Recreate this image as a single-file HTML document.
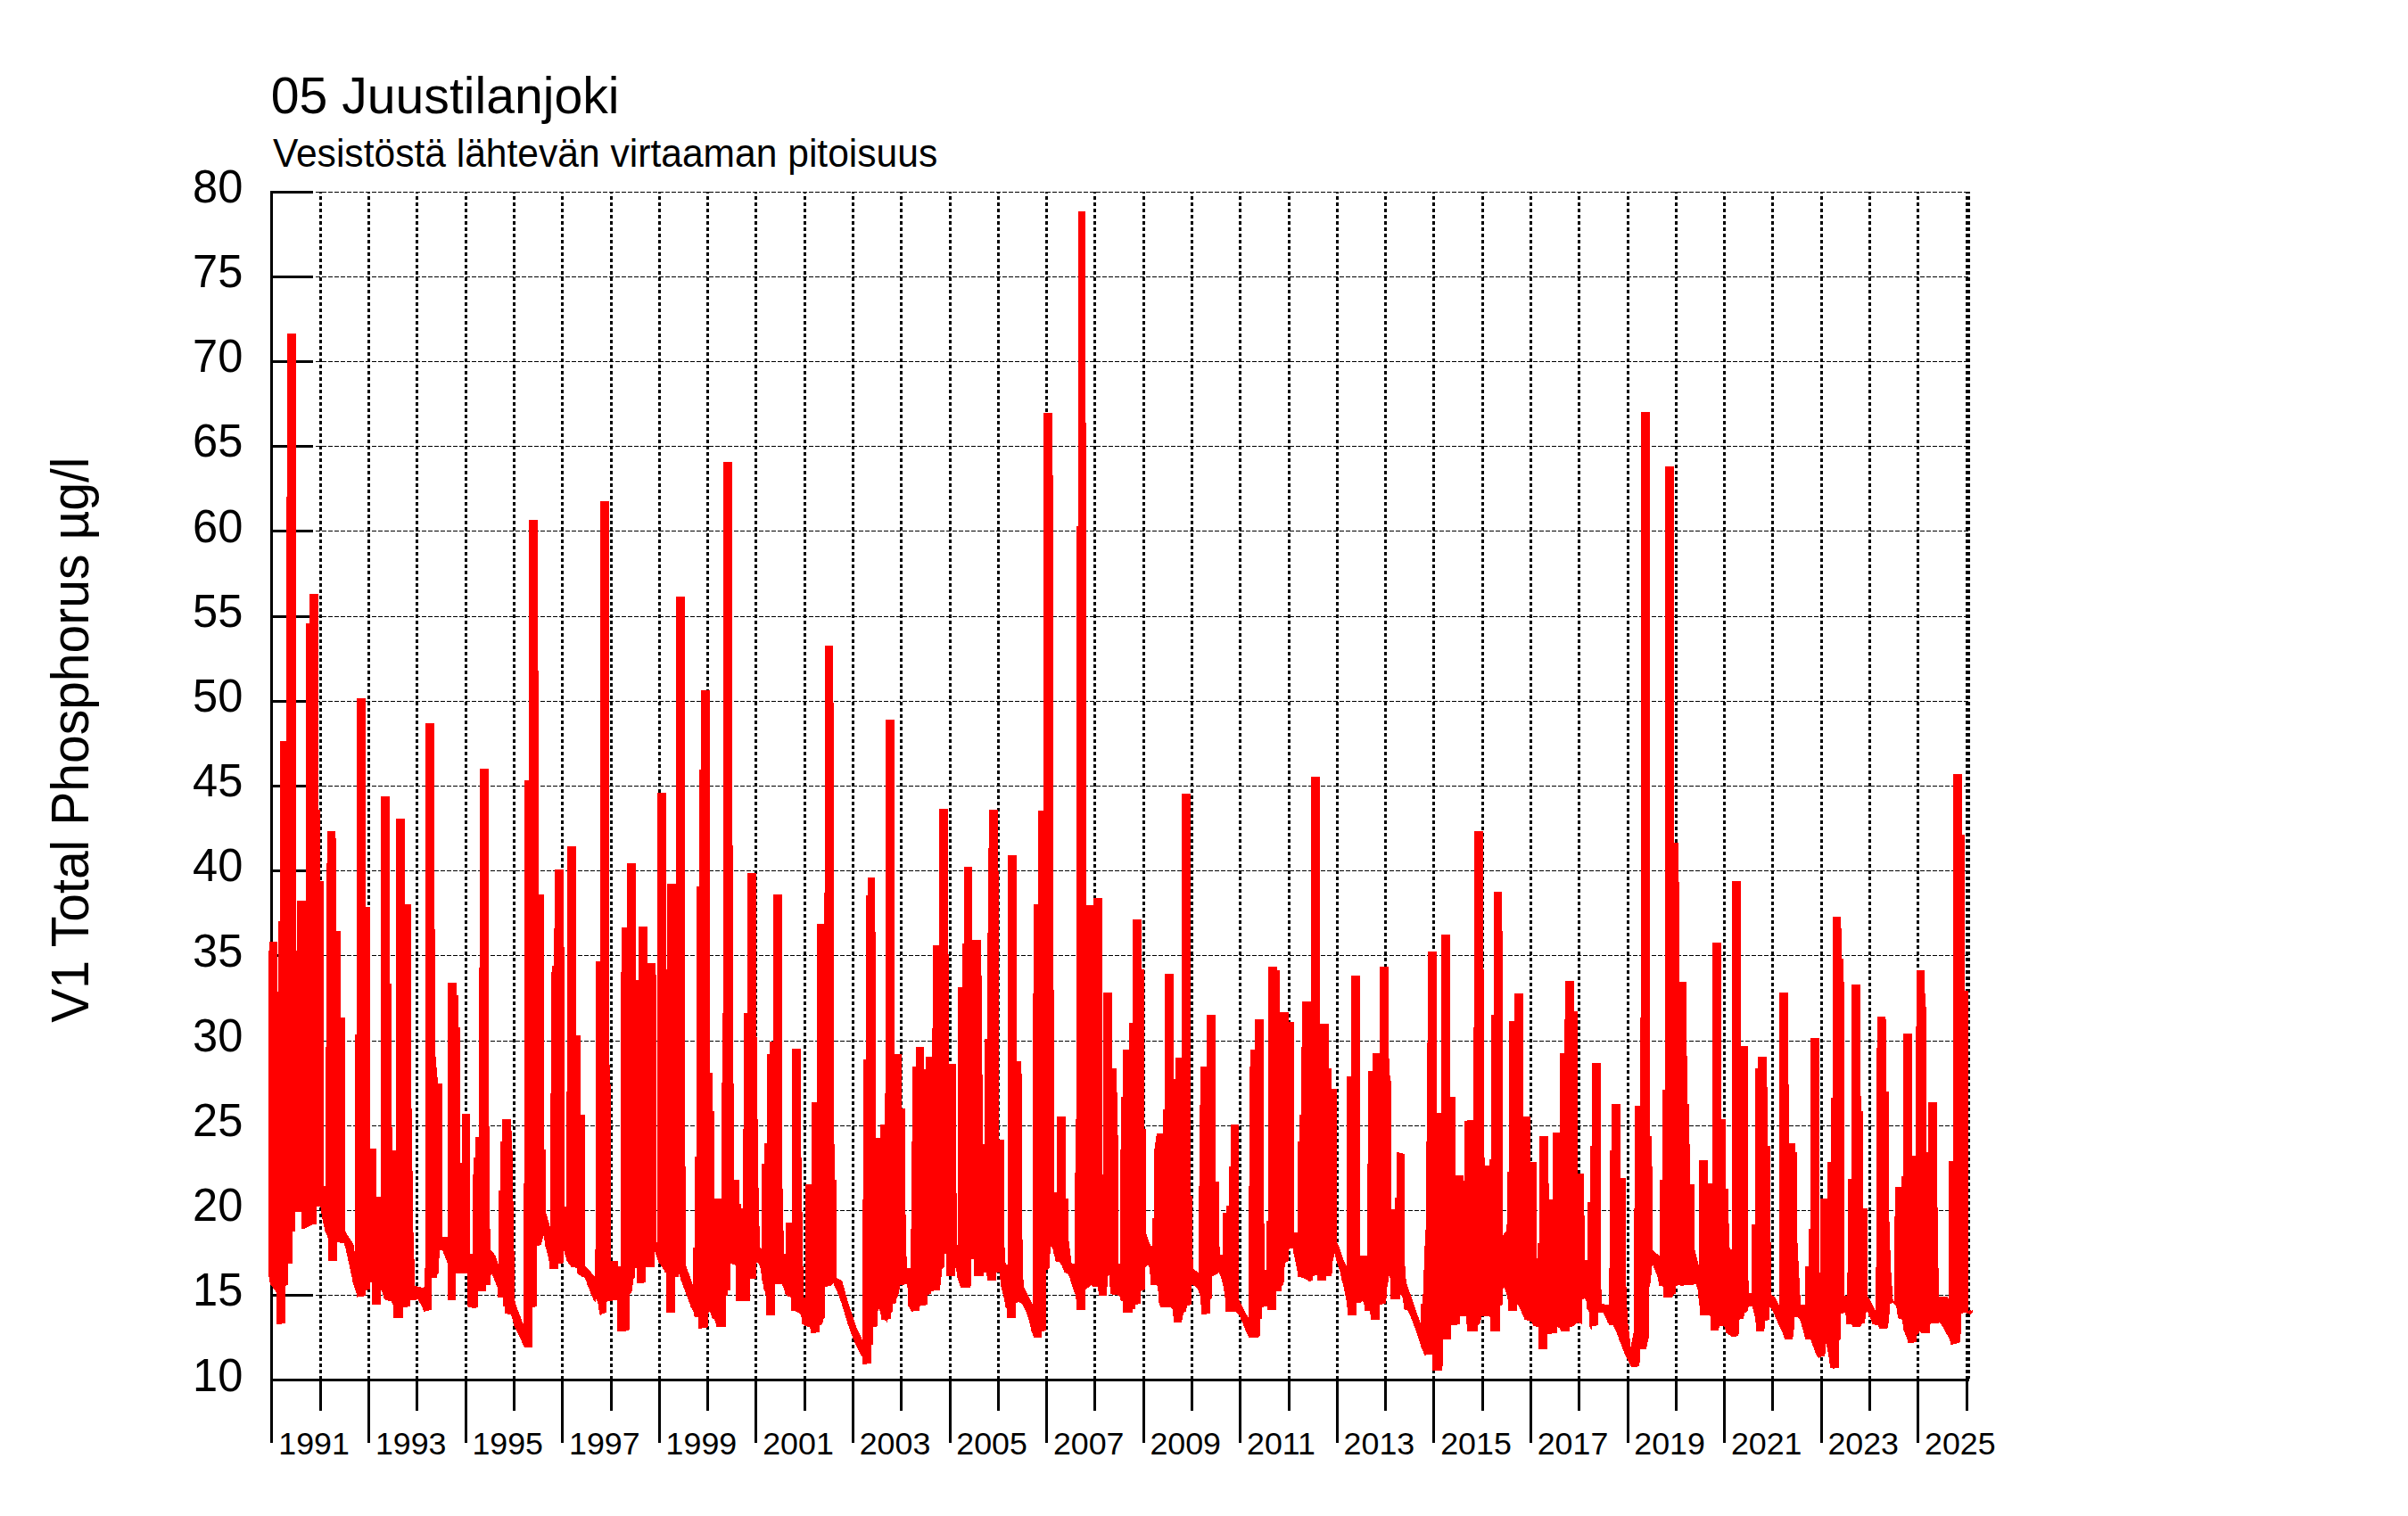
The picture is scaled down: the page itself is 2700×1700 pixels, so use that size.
<!DOCTYPE html>
<html><head><meta charset="utf-8"><title>05 Juustilanjoki</title>
<style>html,body{margin:0;padding:0;background:#fff}svg{display:block}text{font-family:"Liberation Sans",sans-serif;fill:#000}</style></head><body>
<svg width="2700" height="1700" viewBox="0 0 2700 1700">
<rect width="2700" height="1700" fill="#fff"/>
<g shape-rendering="crispEdges" stroke="#000" fill="none">
<line x1="354" x2="2208" y1="1452.5" y2="1452.5" stroke-width="1" stroke-dasharray="5 2"/>
<line x1="354" x2="2208" y1="1357.5" y2="1357.5" stroke-width="1" stroke-dasharray="5 2"/>
<line x1="354" x2="2208" y1="1262.5" y2="1262.5" stroke-width="1" stroke-dasharray="5 2"/>
<line x1="354" x2="2208" y1="1167.5" y2="1167.5" stroke-width="1" stroke-dasharray="5 2"/>
<line x1="354" x2="2208" y1="1071.5" y2="1071.5" stroke-width="1" stroke-dasharray="5 2"/>
<line x1="354" x2="2208" y1="976.5" y2="976.5" stroke-width="1" stroke-dasharray="5 2"/>
<line x1="354" x2="2208" y1="881.5" y2="881.5" stroke-width="1" stroke-dasharray="5 2"/>
<line x1="354" x2="2208" y1="786.5" y2="786.5" stroke-width="1" stroke-dasharray="5 2"/>
<line x1="354" x2="2208" y1="691.5" y2="691.5" stroke-width="1" stroke-dasharray="5 2"/>
<line x1="354" x2="2208" y1="595.5" y2="595.5" stroke-width="1" stroke-dasharray="5 2"/>
<line x1="354" x2="2208" y1="500.5" y2="500.5" stroke-width="1" stroke-dasharray="5 2"/>
<line x1="354" x2="2208" y1="405.5" y2="405.5" stroke-width="1" stroke-dasharray="5 2"/>
<line x1="354" x2="2208" y1="310.5" y2="310.5" stroke-width="1" stroke-dasharray="5 2"/>
<line x1="354" x2="2208" y1="215.5" y2="215.5" stroke-width="1" stroke-dasharray="5 2"/>
<line x1="359.5" x2="359.5" y1="215" y2="1546" stroke-width="3" stroke-dasharray="4 3" stroke-dashoffset="1.7"/>
<line x1="413.5" x2="413.5" y1="215" y2="1546" stroke-width="3" stroke-dasharray="4 3" stroke-dashoffset="1.7"/>
<line x1="467.5" x2="467.5" y1="215" y2="1546" stroke-width="3" stroke-dasharray="4 3" stroke-dashoffset="1.7"/>
<line x1="522.5" x2="522.5" y1="215" y2="1546" stroke-width="3" stroke-dasharray="4 3" stroke-dashoffset="1.7"/>
<line x1="576.5" x2="576.5" y1="215" y2="1546" stroke-width="3" stroke-dasharray="4 3" stroke-dashoffset="1.7"/>
<line x1="630.5" x2="630.5" y1="215" y2="1546" stroke-width="3" stroke-dasharray="4 3" stroke-dashoffset="1.7"/>
<line x1="685.5" x2="685.5" y1="215" y2="1546" stroke-width="3" stroke-dasharray="4 3" stroke-dashoffset="1.7"/>
<line x1="739.5" x2="739.5" y1="215" y2="1546" stroke-width="3" stroke-dasharray="4 3" stroke-dashoffset="1.7"/>
<line x1="793.5" x2="793.5" y1="215" y2="1546" stroke-width="3" stroke-dasharray="4 3" stroke-dashoffset="1.7"/>
<line x1="847.5" x2="847.5" y1="215" y2="1546" stroke-width="3" stroke-dasharray="4 3" stroke-dashoffset="1.7"/>
<line x1="902.5" x2="902.5" y1="215" y2="1546" stroke-width="3" stroke-dasharray="4 3" stroke-dashoffset="1.7"/>
<line x1="956.5" x2="956.5" y1="215" y2="1546" stroke-width="3" stroke-dasharray="4 3" stroke-dashoffset="1.7"/>
<line x1="1010.5" x2="1010.5" y1="215" y2="1546" stroke-width="3" stroke-dasharray="4 3" stroke-dashoffset="1.7"/>
<line x1="1065.5" x2="1065.5" y1="215" y2="1546" stroke-width="3" stroke-dasharray="4 3" stroke-dashoffset="1.7"/>
<line x1="1119.5" x2="1119.5" y1="215" y2="1546" stroke-width="3" stroke-dasharray="4 3" stroke-dashoffset="1.7"/>
<line x1="1173.5" x2="1173.5" y1="215" y2="1546" stroke-width="3" stroke-dasharray="4 3" stroke-dashoffset="1.7"/>
<line x1="1227.5" x2="1227.5" y1="215" y2="1546" stroke-width="3" stroke-dasharray="4 3" stroke-dashoffset="1.7"/>
<line x1="1282.5" x2="1282.5" y1="215" y2="1546" stroke-width="3" stroke-dasharray="4 3" stroke-dashoffset="1.7"/>
<line x1="1336.5" x2="1336.5" y1="215" y2="1546" stroke-width="3" stroke-dasharray="4 3" stroke-dashoffset="1.7"/>
<line x1="1390.5" x2="1390.5" y1="215" y2="1546" stroke-width="3" stroke-dasharray="4 3" stroke-dashoffset="1.7"/>
<line x1="1445.5" x2="1445.5" y1="215" y2="1546" stroke-width="3" stroke-dasharray="4 3" stroke-dashoffset="1.7"/>
<line x1="1499.5" x2="1499.5" y1="215" y2="1546" stroke-width="3" stroke-dasharray="4 3" stroke-dashoffset="1.7"/>
<line x1="1553.5" x2="1553.5" y1="215" y2="1546" stroke-width="3" stroke-dasharray="4 3" stroke-dashoffset="1.7"/>
<line x1="1607.5" x2="1607.5" y1="215" y2="1546" stroke-width="3" stroke-dasharray="4 3" stroke-dashoffset="1.7"/>
<line x1="1662.5" x2="1662.5" y1="215" y2="1546" stroke-width="3" stroke-dasharray="4 3" stroke-dashoffset="1.7"/>
<line x1="1716.5" x2="1716.5" y1="215" y2="1546" stroke-width="3" stroke-dasharray="4 3" stroke-dashoffset="1.7"/>
<line x1="1770.5" x2="1770.5" y1="215" y2="1546" stroke-width="3" stroke-dasharray="4 3" stroke-dashoffset="1.7"/>
<line x1="1825.5" x2="1825.5" y1="215" y2="1546" stroke-width="3" stroke-dasharray="4 3" stroke-dashoffset="1.7"/>
<line x1="1879.5" x2="1879.5" y1="215" y2="1546" stroke-width="3" stroke-dasharray="4 3" stroke-dashoffset="1.7"/>
<line x1="1933.5" x2="1933.5" y1="215" y2="1546" stroke-width="3" stroke-dasharray="4 3" stroke-dashoffset="1.7"/>
<line x1="1987.5" x2="1987.5" y1="215" y2="1546" stroke-width="3" stroke-dasharray="4 3" stroke-dashoffset="1.7"/>
<line x1="2042.5" x2="2042.5" y1="215" y2="1546" stroke-width="3" stroke-dasharray="4 3" stroke-dashoffset="1.7"/>
<line x1="2096.5" x2="2096.5" y1="215" y2="1546" stroke-width="3" stroke-dasharray="4 3" stroke-dashoffset="1.7"/>
<line x1="2150.5" x2="2150.5" y1="215" y2="1546" stroke-width="3" stroke-dasharray="4 3" stroke-dashoffset="1.7"/>
<line x1="2205.5" x2="2205.5" y1="215" y2="1546" stroke-width="3" stroke-dasharray="4 3" stroke-dashoffset="1.7"/>
<line x1="2207.5" x2="2207.5" y1="215" y2="1546" stroke-width="3" stroke-dasharray="4 3" stroke-dashoffset="1.7"/>
</g>
<g shape-rendering="crispEdges" stroke="#000" fill="none" stroke-width="3">
<line x1="304.5" x2="304.5" y1="214" y2="1617.5"/>
<line x1="303" x2="2207.5" y1="1547.5" y2="1547.5"/>
<line x1="303" x2="350.5" y1="1452.5" y2="1452.5"/>
<line x1="303" x2="350.5" y1="1357.5" y2="1357.5"/>
<line x1="303" x2="350.5" y1="1262.5" y2="1262.5"/>
<line x1="303" x2="350.5" y1="1167.5" y2="1167.5"/>
<line x1="303" x2="350.5" y1="1071.5" y2="1071.5"/>
<line x1="303" x2="350.5" y1="976.5" y2="976.5"/>
<line x1="303" x2="350.5" y1="881.5" y2="881.5"/>
<line x1="303" x2="350.5" y1="786.5" y2="786.5"/>
<line x1="303" x2="350.5" y1="691.5" y2="691.5"/>
<line x1="303" x2="350.5" y1="595.5" y2="595.5"/>
<line x1="303" x2="350.5" y1="500.5" y2="500.5"/>
<line x1="303" x2="350.5" y1="405.5" y2="405.5"/>
<line x1="303" x2="350.5" y1="310.5" y2="310.5"/>
<line x1="303" x2="350.5" y1="215.5" y2="215.5"/>
<line x1="359.5" x2="359.5" y1="1546" y2="1581.5"/>
<line x1="413.5" x2="413.5" y1="1546" y2="1617.5"/>
<line x1="467.5" x2="467.5" y1="1546" y2="1581.5"/>
<line x1="522.5" x2="522.5" y1="1546" y2="1617.5"/>
<line x1="576.5" x2="576.5" y1="1546" y2="1581.5"/>
<line x1="630.5" x2="630.5" y1="1546" y2="1617.5"/>
<line x1="685.5" x2="685.5" y1="1546" y2="1581.5"/>
<line x1="739.5" x2="739.5" y1="1546" y2="1617.5"/>
<line x1="793.5" x2="793.5" y1="1546" y2="1581.5"/>
<line x1="847.5" x2="847.5" y1="1546" y2="1617.5"/>
<line x1="902.5" x2="902.5" y1="1546" y2="1581.5"/>
<line x1="956.5" x2="956.5" y1="1546" y2="1617.5"/>
<line x1="1010.5" x2="1010.5" y1="1546" y2="1581.5"/>
<line x1="1065.5" x2="1065.5" y1="1546" y2="1617.5"/>
<line x1="1119.5" x2="1119.5" y1="1546" y2="1581.5"/>
<line x1="1173.5" x2="1173.5" y1="1546" y2="1617.5"/>
<line x1="1227.5" x2="1227.5" y1="1546" y2="1581.5"/>
<line x1="1282.5" x2="1282.5" y1="1546" y2="1617.5"/>
<line x1="1336.5" x2="1336.5" y1="1546" y2="1581.5"/>
<line x1="1390.5" x2="1390.5" y1="1546" y2="1617.5"/>
<line x1="1445.5" x2="1445.5" y1="1546" y2="1581.5"/>
<line x1="1499.5" x2="1499.5" y1="1546" y2="1617.5"/>
<line x1="1553.5" x2="1553.5" y1="1546" y2="1581.5"/>
<line x1="1607.5" x2="1607.5" y1="1546" y2="1617.5"/>
<line x1="1662.5" x2="1662.5" y1="1546" y2="1581.5"/>
<line x1="1716.5" x2="1716.5" y1="1546" y2="1617.5"/>
<line x1="1770.5" x2="1770.5" y1="1546" y2="1581.5"/>
<line x1="1825.5" x2="1825.5" y1="1546" y2="1617.5"/>
<line x1="1879.5" x2="1879.5" y1="1546" y2="1581.5"/>
<line x1="1933.5" x2="1933.5" y1="1546" y2="1617.5"/>
<line x1="1987.5" x2="1987.5" y1="1546" y2="1581.5"/>
<line x1="2042.5" x2="2042.5" y1="1546" y2="1617.5"/>
<line x1="2096.5" x2="2096.5" y1="1546" y2="1581.5"/>
<line x1="2150.5" x2="2150.5" y1="1546" y2="1617.5"/>
<line x1="2205.5" x2="2205.5" y1="1546" y2="1581.5"/>
</g>
<path d="M301 1432V1066H302V1056H311V1112H312V1033H314V831H321V557H322V374H332V1066H333V1010H343V699H347V666H357V908H359V988H363V1330H365V1174H366V968H367V932H376V940H377V1044H382V1141H387V1381H388V1383H389V1385H390V1386H391V1388H392V1389H393V1391H394V1392H395V1394H396V1396H397V1403H398V1160H400V783H410V1017H415V1288H422V1342H427V893H437V1103H439V1264H440V1290H444V918H454V1014H461V1243H462V1313H463V1382H464V1412H465V1442H468V1443H472V1444H475V1443H476V1422H477V811H487V1042H488V1185H489V1197H490V1208H491V1215H496V1387H502V1102H512V1116H514V1152H516V1304H518V1249H527V1406H530V1317H531V1298H533V1275H537V1085H538V862H548V1263H549V1378H550V1402H551V1403H552V1404H553V1405H554V1407H555V1408H556V1411H557V1414H558V1417H559V1335H561V1280H563V1255H573V1268H574V1290H575V1347H576V1403H577V1459H578V1463H579V1466H580V1469H581V1471H582V1474H583V1476H584V1479H585V1482H586V1484H587V1327H588V875H593V583H603V752H604V1003H610V1289H612V1361H613V1364H614V1368H615V1371H616V1375H617V1226H618V1090H619V1083H621V1041H622V975H632V1062H633V1353H635V1224H636V949H646V1161H651V1250H656V1420H657V1421H658V1422H659V1423H660V1424H661V1425H662V1426H663V1428H664V1429H665V1430H666V1431H667V1401H668V1078H673V562H683V1194H684V1216H685V1414H693V1420H696V1090H697V1040H703V968H713V1099H716V1039H726V1080H735V1093H736V1393H737V889H747V1087H748V991H758V669H768V1308H769V1420H770V1423H771V1426H772V1428H773V1431H774V1434H775V1437H776V1440H777V1399H779V1297H781V994H784V863H786V774H796V1203H799V1246H801V1344H809V1214H810V1136H811V518H821V948H822V1215H823V1323H829V1350H831V1355H833V1266H834V1136H838V979H848V1163H849V1255H850V1332H851V1375H852V1399H853V1400H854V1305H857V1282H860V1182H863V1168H867V1003H877V1333H878V1380H879V1406H881V1371H888V1176H898V1298H899V1359H900V1420H901V1455H903V1328H910V1236H916V1036H924V1001H925V724H934V788H935V1283H936V1323H938V1433H939V1434H941V1435H943V1436H944V1437H945V1441H946V1444H947V1448H948V1452H949V1455H950V1459H951V1462H952V1465H953V1468H954V1471H955V1474H956V1477H957V1480H958V1483H959V1486H960V1489H961V1491H962V1493H963V1495H964V1497H965V1499H966V1502H967V1345H968V1188H971V1004H973V984H981V1045H982V1276H987V1261H992V1226H993V807H1003V1182H1011V1243H1015V1362H1016V1409H1017V1422H1021V1378H1022V1280H1023V1196H1027V1174H1036V1199H1038V1185H1045V1153H1046V1060H1053V907H1063V1070H1064V1193H1072V1338H1073V1396H1074V1107H1079V1058H1081V972H1090V1054H1100V1094H1101V1205H1102V1283H1104V1165H1107V1046H1108V951H1109V908H1119V977H1120V1278H1126V1399H1127V1416H1128V1418H1130V959H1140V1190H1145V1204H1146V1390H1147V1435H1148V1444H1149V1446H1150V1448H1151V1450H1152V1452H1153V1454H1154V1456H1155V1458H1156V1460H1157V1462H1158V1114H1159V1014H1164V909H1170V463H1180V533H1181V1110H1182V1337H1185V1252H1195V1344H1198V1392H1199V1400H1200V1408H1201V1416H1202V1417H1205V1315H1206V1255H1207V590H1209V237H1217V474H1218V1015H1226V1007H1236V1317H1237V1113H1247V1198H1252V1225H1253V1273H1254V1417H1256V1289H1257V1230H1259V1177H1266V1147H1270V1031H1280V1087H1283V1266H1285V1384H1286V1387H1287V1390H1288V1393H1289V1395H1290V1397H1292V1366H1294V1288H1295V1281H1296V1274H1297V1271H1304V1244H1306V1092H1316V1210H1318V1186H1325V890H1335V1341H1337V1412H1338V1423H1339V1424H1340V1425H1342V1426H1343V1427H1344V1330H1345V1239H1346V1196H1353V1138H1363V1325H1367V1398H1368V1407H1371V1360H1375V1352H1378V1308H1380V1261H1389V1458H1390V1460H1391V1462H1392V1464H1393V1466H1394V1468H1395V1470H1396V1472H1397V1474H1398V1475H1399V1477H1400V1330H1401V1196H1402V1177H1407V1143H1417V1372H1418V1424H1420V1369H1422V1084H1432V1088H1435V1135H1445V1146H1451V1382H1455V1280H1457V1250H1459V1174H1460V1123H1470V871H1480V1148H1490V1198H1493V1221H1499V1394H1500V1396H1501V1398H1502V1401H1503V1404H1504V1407H1505V1410H1506V1413H1507V1415H1508V1417H1509V1419H1510V1207H1515V1094H1525V1408H1533V1305H1534V1201H1539V1181H1547V1084H1557V1187H1558V1206H1559V1212H1560V1356H1564V1343H1566V1292H1569V1293H1573V1294H1575V1420H1576V1434H1577V1440H1578V1443H1579V1446H1580V1449H1581V1451H1582V1454H1583V1457H1584V1460H1585V1463H1586V1466H1587V1469H1588V1472H1589V1475H1590V1477H1591V1480H1592V1483H1593V1462H1595V1451H1596V1424H1597V1397H1598V1379H1599V1280H1600V1169H1601V1067H1611V1248H1616V1048H1626V1230H1632V1318H1641V1324H1642V1257H1645V1256H1652V1152H1653V932H1663V1087H1664V1298H1665V1307H1670V1300H1672V1138H1675V1000H1684V1044H1685V1385H1686V1383H1687V1382H1688V1381H1689V1373H1690V1314H1692V1145H1698V1114H1708V1252H1716V1303H1723V1411H1724V1394H1726V1274H1736V1327H1737V1345H1741V1270H1749V1181H1754V1143H1755V1100H1765V1134H1769V1316H1776V1363H1777V1413H1780V1348H1783V1285H1785V1192H1795V1446H1796V1462H1799V1463H1804V1422H1805V1290H1807V1238H1817V1321H1823V1443H1824V1468H1825V1485H1826V1493H1827V1501H1828V1510H1829V1505H1830V1500H1831V1495H1832V1355H1833V1240H1839V1141H1840V462H1850V1274H1852V1308H1853V1402H1854V1403H1855V1404H1856V1405H1857V1406H1859V1407H1860V1408H1861V1323H1864V1222H1867V523H1877V945H1882V989H1883V1101H1891V1184H1892V1238H1894V1283H1895V1328H1900V1402H1901V1406H1902V1410H1903V1414H1904V1418H1905V1301H1915V1327H1920V1057H1930V1255H1935V1333H1938V1372H1939V1399H1940V1401H1942V988H1952V1173H1960V1436H1961V1450H1964V1373H1968V1198H1971V1185H1981V1219H1982V1285H1985V1393H1986V1452H1987V1453H1989V1454H1990V1455H1991V1457H1992V1459H1993V1461H1994V1463H1995V1113H2005V1216H2006V1282H2013V1292H2015V1394H2016V1414H2017V1433H2018V1452H2019V1463H2024V1420H2028V1378H2030V1164H2040V1427H2041V1344H2049V1303H2053V1231H2055V1028H2064V1041H2065V1075H2067V1101H2068V1453H2071V1427H2072V1322H2076V1104H2086V1229H2087V1246H2089V1355H2094V1454H2095V1456H2096V1457H2097V1459H2098V1461H2099V1463H2100V1465H2101V1467H2102V1469H2103V1421H2104V1175H2105V1140H2114V1143H2115V1224H2118V1370H2119V1402H2120V1427H2121V1442H2122V1457H2123V1459H2124V1364H2125V1331H2132V1319H2134V1159H2144V1296H2148V1151H2149V1088H2158V1114H2159V1129H2160V1292H2162V1236H2172V1354H2173V1422H2174V1454H2184V1456H2185V1302H2190V868H2200V936H2203V1111H2207V1470H2208V1469H2210V1470H2211V1469H2212V1472H2211V1473H2210V1474H2208V1473H2205V1472H2201V1473H2199V1496H2198V1505H2197V1506H2194V1507H2190V1508H2187V1504H2186V1501H2185V1499H2184V1497H2183V1496H2182V1494H2181V1492H2180V1490H2179V1488H2178V1487H2177V1485H2176V1484H2175V1483H2174V1484H2165V1485H2164V1495H2154V1494H2153V1493H2152V1495H2151V1496H2150V1497H2149V1505H2146V1506H2139V1502H2138V1499H2137V1497H2136V1494H2135V1492H2134V1485H2133V1480H2132V1479H2129V1478H2128V1474H2127V1467H2126V1464H2125V1463H2124V1462H2123V1461H2121V1462H2119V1474H2118V1484H2117V1489H2116V1490H2107V1488H2106V1486H2102V1485H2099V1482H2098V1479H2097V1477H2096V1476H2095V1472H2094V1471H2093V1472H2092V1479H2091V1484H2088V1485H2087V1487H2086V1488H2077V1486H2076V1485H2070V1475H2069V1472H2067V1473H2064V1502H2063V1503H2062V1534H2057V1535H2055V1534H2052V1529H2051V1522H2050V1516H2049V1511H2048V1507H2047V1518H2046V1521H2042V1522H2040V1523H2039V1522H2038V1521H2037V1519H2036V1517H2035V1514H2034V1511H2033V1509H2032V1506H2031V1503H2030V1502H2024V1499H2023V1495H2022V1491H2021V1488H2020V1484H2019V1481H2018V1479H2017V1478H2016V1477H2012V1491H2011V1499H2010V1502H2001V1500H2000V1497H1999V1494H1998V1492H1997V1490H1996V1488H1995V1486H1994V1484H1993V1481H1992V1479H1991V1477H1990V1474H1989V1472H1988V1470H1987V1468H1986V1467H1985V1466H1984V1480H1982V1481H1979V1490H1978V1493H1969V1483H1968V1476H1967V1472H1966V1468H1965V1465H1961V1466H1960V1470H1959V1471H1958V1472H1956V1476H1955V1479H1951V1480H1950V1496H1949V1498H1947V1499H1941V1498H1940V1497H1938V1496H1937V1495H1935V1491H1934V1488H1933V1487H1928V1489H1927V1492H1918V1476H1917V1475H1906V1464H1905V1456H1904V1446H1903V1443H1902V1440H1899V1441H1888V1442H1884V1441H1881V1442H1879V1451H1877V1452H1876V1454H1875V1455H1865V1443H1864V1442H1860V1437H1859V1432H1858V1429H1857V1427H1856V1424H1855V1422H1854V1419H1853V1420H1852V1430H1851V1439H1850V1443H1849V1501H1848V1505H1847V1510H1846V1513H1839V1528H1838V1532H1836V1533H1829V1532H1828V1530H1827V1528H1826V1526H1825V1524H1824V1522H1823V1520H1822V1518H1821V1515H1820V1513H1819V1510H1818V1507H1817V1505H1816V1503H1815V1499H1814V1497H1813V1494H1812V1492H1811V1490H1810V1488H1809V1486H1804V1484H1803V1483H1802V1480H1801V1478H1800V1476H1799V1474H1798V1472H1792V1486H1790V1487H1785V1491H1784V1490H1783V1488H1782V1471H1781V1469H1780V1468H1779V1459H1778V1457H1777V1456H1776V1457H1774V1485H1773V1484H1770V1483H1769V1484H1767V1485H1766V1486H1765V1487H1763V1488H1760V1493H1750V1491H1749V1489H1747V1488H1746V1495H1740V1496H1735V1513H1725V1488H1722V1487H1719V1485H1718V1483H1717V1482H1715V1481H1712V1480H1709V1477H1708V1475H1707V1473H1706V1470H1705V1468H1704V1466H1703V1464H1702V1463H1701V1470H1691V1457H1690V1452H1689V1449H1688V1446H1687V1444H1686V1445H1685V1463H1684V1464H1682V1493H1671V1477H1670V1476H1661V1480H1660V1484H1659V1485H1658V1486H1657V1493H1645V1485H1644V1476H1637V1485H1634V1486H1627V1502H1618V1532H1617V1537H1606V1519H1599V1520H1597V1518H1596V1515H1595V1513H1594V1511H1593V1507H1592V1504H1591V1501H1590V1498H1589V1495H1588V1492H1587V1489H1586V1487H1585V1484H1584V1481H1583V1479H1582V1476H1581V1474H1580V1472H1579V1470H1578V1469H1575V1468H1574V1461H1573V1455H1572V1453H1571V1452H1570V1457H1559V1433H1558V1431H1557V1438H1556V1443H1555V1456H1554V1462H1550V1463H1547V1480H1537V1474H1536V1470H1530V1463H1529V1460H1528V1459H1527V1460H1526V1461H1521V1475H1511V1466H1510V1458H1509V1453H1508V1448H1507V1443H1506V1439H1505V1436H1504V1431H1503V1426H1502V1423H1501V1420H1500V1417H1499V1414H1498V1410H1497V1406H1496V1410H1495V1414H1494V1428H1493V1431H1487V1436H1477V1430H1474V1431H1472V1436H1470V1437H1467V1436H1466V1435H1464V1434H1462V1433H1459V1432H1455V1425H1454V1420H1453V1415H1452V1410H1451V1406H1450V1400H1446V1401H1445V1414H1444V1415H1442V1416H1441V1421H1440V1438H1439V1441H1438V1442H1437V1448H1431V1469H1421V1465H1417V1466H1415V1479H1413V1498H1412V1499H1411V1500H1400V1498H1399V1496H1398V1494H1397V1492H1396V1489H1395V1487H1394V1484H1393V1482H1392V1480H1391V1477H1390V1475H1389V1474H1388V1473H1387V1472H1386V1471H1374V1455H1373V1448H1372V1442H1371V1438H1370V1434H1369V1431H1368V1429H1367V1427H1366V1428H1365V1429H1363V1430H1361V1431H1359V1456H1358V1457H1357V1473H1353V1474H1347V1463H1346V1453H1345V1450H1344V1447H1343V1445H1342V1444H1341V1443H1340V1442H1338V1441H1336V1463H1334V1464H1331V1467H1330V1471H1328V1472H1327V1475H1326V1480H1325V1483H1316V1476H1315V1468H1314V1467H1313V1466H1301V1464H1300V1461H1299V1448H1298V1442H1297V1441H1290V1429H1289V1421H1288V1419H1286V1420H1285V1421H1284V1446H1283V1447H1280V1448H1279V1462H1276V1463H1273V1468H1270V1472H1259V1459H1257V1458H1256V1454H1255V1453H1253V1452H1247V1451H1245V1443H1244V1430H1243V1431H1242V1443H1241V1453H1232V1448H1231V1443H1225V1442H1224V1441H1223V1442H1222V1443H1221V1444H1219V1445H1218V1446H1217V1469H1207V1457H1206V1451H1205V1449H1204V1446H1203V1443H1202V1440H1201V1437H1200V1433H1199V1431H1198V1429H1197V1428H1195V1427H1193V1424H1192V1422H1191V1419H1190V1418H1189V1416H1188V1415H1184V1414H1183V1409H1182V1406H1181V1401H1180V1399H1179V1398H1178V1406H1177V1422H1176V1423H1175V1424H1173V1492H1171V1493H1168V1500H1159V1498H1158V1495H1157V1493H1156V1488H1155V1484H1154V1480H1153V1477H1152V1474H1151V1471H1150V1469H1149V1467H1148V1465H1147V1463H1146V1462H1145V1461H1143V1460H1141V1461H1139V1478H1129V1467H1128V1466H1127V1460H1126V1455H1125V1451H1124V1447H1123V1443H1122V1435H1121V1427H1117V1436H1107V1431H1106V1427H1103V1431H1092V1412H1089V1442H1088V1444H1077V1442H1076V1439H1075V1436H1074V1433H1073V1426H1072V1422H1071V1431H1061V1406H1059V1421H1058V1422H1057V1423H1056V1432H1055V1441H1054V1447H1047V1448H1044V1451H1042V1452H1040V1463H1038V1464H1032V1465H1031V1470H1024V1471H1022V1470H1021V1468H1020V1466H1019V1465H1018V1444H1017V1440H1014V1441H1009V1446H1008V1451H1007V1454H1006V1456H1005V1461H1004V1462H1001V1471H1000V1472H999V1479H996V1480H995V1483H994V1481H992V1480H988V1474H987V1470H986V1468H985V1470H984V1487H983V1488H979V1508H977V1529H972V1530H967V1521H966V1520H965V1518H964V1516H963V1514H962V1512H961V1510H960V1508H959V1506H958V1503H957V1501H956V1498H955V1496H954V1493H953V1490H952V1487H951V1485H950V1481H949V1478H948V1475H947V1471H946V1468H945V1465H944V1461H943V1459H942V1456H941V1453H940V1451H939V1448H938V1446H937V1444H936V1442H935V1439H934V1440H933V1441H932V1442H928V1443H925V1478H924V1479H923V1483H922V1485H921V1486H919V1494H915V1495H909V1490H908V1488H905V1487H902V1486H901V1485H899V1477H898V1474H897V1473H896V1472H894V1471H892V1470H887V1455H886V1454H883V1453H882V1452H881V1451H880V1447H879V1444H878V1442H877V1440H869V1475H859V1452H858V1448H857V1446H856V1440H855V1436H854V1428H853V1422H852V1419H851V1417H850V1416H848V1434H841V1459H825V1419H824V1418H821V1417H819V1447H816V1453H814V1488H803V1484H802V1481H801V1479H799V1478H798V1475H797V1472H796V1471H795V1472H794V1488H793V1489H787V1490H783V1477H779V1476H778V1471H777V1469H776V1467H775V1466H774V1462H773V1460H772V1457H771V1454H770V1452H769V1449H768V1446H767V1444H766V1441H765V1438H764V1436H763V1432H762V1429H761V1432H757V1472H747V1427H745V1424H744V1423H743V1421H742V1420H741V1418H740V1417H739V1416H738V1413H737V1410H736V1407H735V1404H734V1421H724V1438H722V1439H714V1422H712V1433H711V1434H710V1441H709V1448H708V1450H707V1451H706V1491H705V1492H702V1493H692V1458H687V1459H681V1460H680V1472H678V1473H675V1474H674V1475H673V1474H672V1469H671V1462H670V1459H669V1457H668V1460H667V1459H666V1458H665V1455H664V1453H663V1451H662V1448H661V1445H660V1443H659V1441H658V1437H657V1435H656V1433H655V1432H652V1431H651V1430H649V1429H648V1428H647V1422H645V1421H640V1419H639V1418H638V1417H637V1415H636V1414H635V1410H634V1407H633V1403H632V1416H631V1417H626V1423H616V1414H615V1409H614V1405H613V1401H612V1398H611V1391H610V1386H609V1389H608V1393H607V1396H605V1397H602V1465H600V1466H597V1511H588V1510H587V1508H586V1506H585V1503H584V1501H583V1499H582V1497H581V1495H580V1493H579V1491H578V1489H577V1487H576V1483H575V1479H574V1476H573V1474H569V1473H566V1465H564V1455H558V1443H557V1441H556V1438H555V1436H554V1433H553V1431H552V1429H551V1430H550V1441H545V1448H536V1466H534V1467H529V1466H525V1465H524V1428H511V1458H502V1416H501V1413H500V1411H499V1408H498V1406H497V1403H496V1402H493V1411H492V1428H491V1429H490V1433H484V1469H481V1470H477V1471H475V1469H474V1466H473V1464H472V1462H471V1461H470V1459H469V1457H467V1458H460V1465H457V1466H452V1478H441V1463H440V1461H439V1459H435V1458H432V1457H431V1456H430V1452H429V1449H428V1447H427V1463H417V1438H415V1446H412V1447H410V1453H408V1454H401V1455H400V1450H399V1447H398V1444H397V1441H396V1438H395V1432H394V1428H393V1423H392V1418H391V1414H390V1409H389V1405H388V1400H387V1397H386V1394H381V1393H378V1414H368V1388H367V1385H366V1383H365V1381H364V1376H363V1372H362V1367H361V1361H360V1354H359V1353H355V1373H350V1374H348V1375H346V1376H344V1377H342V1378H338V1359H331V1381H328V1417H323V1441H321V1442H320V1484H316V1485H310V1449H309V1447H308V1446H307V1445H306V1443H305V1442H304V1441H303V1438H302V1432H301Z" fill="#ff0000" shape-rendering="crispEdges"/>
<text transform="translate(272.4,1559.6) scale(0.974,1)" font-size="52" text-anchor="end">10</text>
<text transform="translate(272.4,1464.4) scale(0.974,1)" font-size="52" text-anchor="end">15</text>
<text transform="translate(272.4,1369.2) scale(0.974,1)" font-size="52" text-anchor="end">20</text>
<text transform="translate(272.4,1274.0) scale(0.974,1)" font-size="52" text-anchor="end">25</text>
<text transform="translate(272.4,1178.8) scale(0.974,1)" font-size="52" text-anchor="end">30</text>
<text transform="translate(272.4,1083.6) scale(0.974,1)" font-size="52" text-anchor="end">35</text>
<text transform="translate(272.4,988.4) scale(0.974,1)" font-size="52" text-anchor="end">40</text>
<text transform="translate(272.4,893.2) scale(0.974,1)" font-size="52" text-anchor="end">45</text>
<text transform="translate(272.4,798.0) scale(0.974,1)" font-size="52" text-anchor="end">50</text>
<text transform="translate(272.4,702.8) scale(0.974,1)" font-size="52" text-anchor="end">55</text>
<text transform="translate(272.4,607.6) scale(0.974,1)" font-size="52" text-anchor="end">60</text>
<text transform="translate(272.4,512.4) scale(0.974,1)" font-size="52" text-anchor="end">65</text>
<text transform="translate(272.4,417.2) scale(0.974,1)" font-size="52" text-anchor="end">70</text>
<text transform="translate(272.4,322.0) scale(0.974,1)" font-size="52" text-anchor="end">75</text>
<text transform="translate(272.4,226.8) scale(0.974,1)" font-size="52" text-anchor="end">80</text>
<text transform="translate(312.3,1630.9) scale(0.994,1)" font-size="36">1991</text>
<text transform="translate(420.9,1630.9) scale(0.994,1)" font-size="36">1993</text>
<text transform="translate(529.4,1630.9) scale(0.994,1)" font-size="36">1995</text>
<text transform="translate(638.0,1630.9) scale(0.994,1)" font-size="36">1997</text>
<text transform="translate(746.6,1630.9) scale(0.994,1)" font-size="36">1999</text>
<text transform="translate(855.2,1630.9) scale(0.994,1)" font-size="36">2001</text>
<text transform="translate(963.7,1630.9) scale(0.994,1)" font-size="36">2003</text>
<text transform="translate(1072.3,1630.9) scale(0.994,1)" font-size="36">2005</text>
<text transform="translate(1180.9,1630.9) scale(0.994,1)" font-size="36">2007</text>
<text transform="translate(1289.4,1630.9) scale(0.994,1)" font-size="36">2009</text>
<text transform="translate(1398.0,1630.9) scale(0.994,1)" font-size="36">2011</text>
<text transform="translate(1506.6,1630.9) scale(0.994,1)" font-size="36">2013</text>
<text transform="translate(1615.2,1630.9) scale(0.994,1)" font-size="36">2015</text>
<text transform="translate(1723.7,1630.9) scale(0.994,1)" font-size="36">2017</text>
<text transform="translate(1832.3,1630.9) scale(0.994,1)" font-size="36">2019</text>
<text transform="translate(1940.9,1630.9) scale(0.994,1)" font-size="36">2021</text>
<text transform="translate(2049.4,1630.9) scale(0.994,1)" font-size="36">2023</text>
<text transform="translate(2158.0,1630.9) scale(0.994,1)" font-size="36">2025</text>
<text transform="translate(303.8,126.8) scale(0.982,1)" font-size="58.2">05 Juustilanjoki</text>
<text transform="translate(305.9,187) scale(0.961,1)" font-size="44.3">Vesistöstä lähtevän virtaaman pitoisuus</text>
<text transform="translate(99.1,1146.8) rotate(-90) scale(0.977,1)" font-size="58.4">V1 Total Phosphorus µg/l</text>
</svg></body></html>
